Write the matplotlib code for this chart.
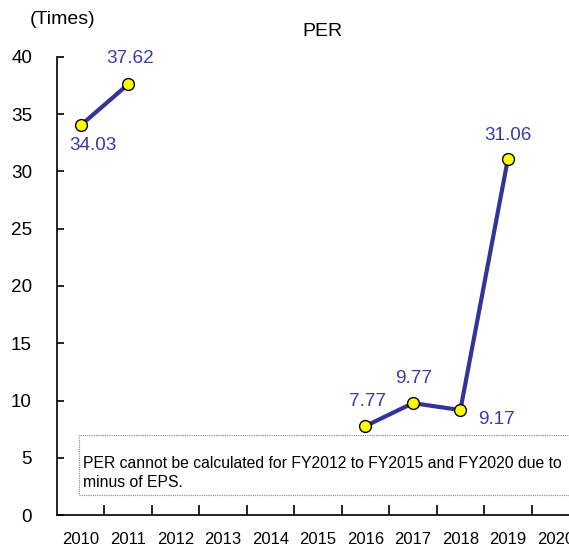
import matplotlib
matplotlib.use("Agg")
import matplotlib.pyplot as plt
from matplotlib.patches import Rectangle
import numpy as np

plt.rcParams['font.family'] = ['Liberation Sans', 'DejaVu Sans']

years = ["2010", "2011", "2012", "2013", "2014", "2015", "2016", "2017", "2018", "2019", "2020"]
per = [34.03, 37.62, None, None, None, None, 7.77, 9.77, 9.17, 31.06, None]
label_offsets = {0: (12, -20), 1: (2, 26), 6: (2, 25), 7: (1, 25), 8: (36, -9), 9: (0, 24)}
note = "PER cannot be calculated for FY2012 to FY2015 and FY2020 due to\nminus of EPS."

fig = plt.figure(figsize=(5.69, 5.47), dpi=100)
ax = fig.add_axes([57/569, 32/547, 522/569, 458/547])

x = np.arange(len(years))
y = np.array([np.nan if v is None else v for v in per])
line_color = "#333399"
label_color = "#3b3ba3"

ax.plot(x, y, color=line_color, lw=3, zorder=2, solid_capstyle='round')
ax.plot(x, y, linestyle='none', marker='o', markersize=8.5, markerfacecolor='#ffff00',
        markeredgecolor='black', markeredgewidth=1.0, zorder=3)

for i, v in enumerate(per):
    if v is None:
        continue
    dx, dy = label_offsets[i]
    ax.annotate(f"{v:.2f}", (i, v), xytext=(dx, dy), textcoords='offset pixels',
                ha='center', va='center', fontsize=13.6, color=label_color)

ax.set_xlim(-0.5, len(years) - 0.5)
ax.set_ylim(0, 40)
ax.set_yticks(np.arange(0, 41, 5))
ax.set_xticks(x)
ax.set_xticklabels(years)
ax.set_xticks(np.arange(0.5, len(years) - 0.5, 1), minor=True)
ax.tick_params(axis='x', which='major', length=0, pad=12, labelsize=12)
ax.tick_params(axis='x', which='minor', direction='in', length=7, width=1.2)
ax.tick_params(axis='y', direction='in', length=5, width=1.2, pad=18, labelsize=13.6)
for s in ['top', 'right']:
    ax.spines[s].set_visible(False)
for s in ['left', 'bottom']:
    ax.spines[s].set_linewidth(1.2)

rect = Rectangle((79/569, (547-495)/547), 0.98 - 79/569 + 0.1, 60/547, transform=fig.transFigure,
                 fill=False, edgecolor='#888888', linestyle=(0, (1, 1)), linewidth=0.8, clip_on=False)
fig.patches.append(rect)
fig.text(83/569, 1 - 473/547, note, fontsize=11.3, ha='left', va='center', linespacing=1.3)

fig.text(63/569, 1 - 20/547, "(Times)", fontsize=14, ha='center', va='center')
fig.text(322/569, 1 - 31/547, "PER", fontsize=14, ha='center', va='center')

fig.savefig("out.png", dpi=100)
